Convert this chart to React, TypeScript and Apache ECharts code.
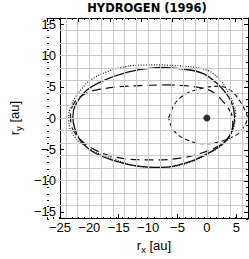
import React, { useEffect, useRef } from 'react';
import * as echarts from 'echarts';

const TITLE = 'HYDROGEN (1996)';
const X_NAME = '{a|r}{b|x}{a| [au]}';
const Y_NAME = '{a|r}{b|y}{a| [au]}';
const X_RANGE = [-25, 7];
const Y_RANGE = [-16, 16];
const X_MAJOR = [-25, -20, -15, -10, -5, 0, 5];
const Y_MAJOR = [-15, -10, -5, 0, 5, 10, 15];
const X_GRID = [-24, -22, -20, -18, -16, -14, -12, -10, -8, -6, -4, -2, 0, 2, 4, 6];
const Y_GRID = [-14, -12, -10, -8, -6, -4, -2, 0, 2, 4, 6, 8, 10, 12, 14];

const SOLID = [
  [-8.1, 8.1], [-3.8, 7.8], [-0.6, 7.1], [2.0, 5.3], [3.4, 3.8], [4.2, 2.5], [4.6, 1.2],
  [4.7, -0.2], [4.4, -1.6], [4.0, -2.6], [2.6, -4.2], [-0.1, -5.8], [-3.3, -7.1],
  [-7.5, -7.9], [-11.8, -7.7], [-15.5, -6.9], [-19.2, -5.5], [-21.5, -3.6], [-22.5, -1.6],
  [-22.8, 0.2], [-22.4, 2.0], [-20.4, 4.5], [-16.6, 6.4], [-12.3, 7.6], [-8.1, 8.1],
];

const DOTTED = [
  [-8.1, 8.5], [-2.8, 8.2], [0.4, 7.5], [2.6, 5.7], [3.7, 4.0], [4.5, 2.3], [4.9, 0.8],
  [4.8, -0.6], [4.5, -1.8], [4.0, -2.8], [2.6, -4.3], [-0.1, -5.9], [-3.3, -7.2],
  [-7.5, -7.9], [-11.8, -7.7], [-16.6, -6.3], [-19.8, -5.0], [-22.3, -3.2], [-23.4, -1.3],
  [-23.5, 0.3], [-22.6, 3.0], [-21.0, 5.0], [-19.8, 6.1], [-16.1, 7.7], [-11.8, 8.45], [-8.1, 8.5],
];

const LONG_DASH = [
  [-7.0, 5.3], [-2.8, 5.1], [0.3, 4.5], [2.0, 3.4], [3.3, 2.0], [4.2, 0.6], [4.4, -1.0],
  [4.0, -2.6], [3.0, -3.9], [1.5, -4.7], [-0.3, -5.4], [-3.8, -6.3], [-8.6, -6.7],
  [-12.9, -6.6], [-16.6, -6.0], [-19.8, -4.7], [-22.0, -3.0], [-23.1, -1.0], [-23.2, 0.6],
  [-22.5, 2.5], [-20.7, 3.9], [-18.7, 4.5], [-15.0, 5.0], [-11.3, 5.2], [-7.0, 5.3],
];

const SHORT_DASH = [
  [-6.5, 0.0], [-5.9, 1.5], [-5.0, 2.8], [-3.3, 4.0], [-0.6, 4.8], [2.0, 5.1], [4.1, 4.4],
  [5.7, 2.6], [6.5, 1.2], [6.9, 0.1], [6.6, -0.9], [5.5, -2.4], [3.4, -3.4], [1.2, -4.0],
  [-0.9, -4.1], [-3.1, -3.6], [-4.9, -2.7], [-6.0, -1.4], [-6.5, 0.0],
];

const CENTER = [[0, 0]];

const fmt = (v: number) => {
  if (Math.abs(v % 5) > 1e-9) return '';
  return v < 0 ? '\u2212' + Math.abs(v) : String(v);
};

const GRID_RECT = { left: 47, top: 18, width: 201, height: 201 };
const BLACK = '#000';
const LABEL_FONT = 'Liberation Sans';

const nameRich = {
  a: { fontSize: 13, fontFamily: LABEL_FONT, color: BLACK },
  b: { fontSize: 9.5, fontFamily: LABEL_FONT, color: BLACK, padding: [7, 0, 0, 0] },
};

function majorX(gridIndex: number, position: string, labels: boolean): any {
  return {
    type: 'value', gridIndex, position, min: X_RANGE[0], max: X_RANGE[1], interval: 5,
    axisLine: { show: true, onZero: false, lineStyle: { color: BLACK, width: 1 } },
    axisTick: { show: true, inside: true, length: 4, lineStyle: { color: BLACK }, customValues: X_MAJOR },
    axisLabel: labels
      ? { show: true, customValues: X_MAJOR, formatter: fmt, margin: 3, fontSize: 13, fontFamily: LABEL_FONT, color: BLACK }
      : { show: false },
    splitLine: { show: false },
    ...(labels ? { name: X_NAME, nameLocation: 'middle', nameGap: 17, nameTextStyle: { rich: nameRich } } : {}),
  };
}

function minorX(gridIndex: number, position: string): any {
  return {
    type: 'value', gridIndex, position, min: X_RANGE[0], max: X_RANGE[1], interval: 1,
    axisLine: { show: false, onZero: false },
    axisTick: { show: true, inside: true, length: 2, lineStyle: { color: BLACK } },
    axisLabel: { show: false },
    splitLine: { show: false },
  };
}

function majorY(gridIndex: number, position: string, labels: boolean): any {
  return {
    type: 'value', gridIndex, position, min: Y_RANGE[0], max: Y_RANGE[1], splitNumber: 6,
    axisLine: { show: true, onZero: false, lineStyle: { color: BLACK, width: 1 } },
    axisTick: { show: true, inside: true, length: 4, lineStyle: { color: BLACK }, customValues: Y_MAJOR },
    axisLabel: labels
      ? { show: true, customValues: Y_MAJOR, formatter: fmt, margin: 4, fontSize: 13, fontFamily: LABEL_FONT, color: BLACK }
      : { show: false },
    splitLine: { show: false },
    ...(labels ? { name: Y_NAME, nameLocation: 'middle', nameGap: 31, nameRotate: 90, nameTextStyle: { rich: nameRich } } : {}),
  };
}

function minorY(gridIndex: number, position: string): any {
  return {
    type: 'value', gridIndex, position, min: Y_RANGE[0], max: Y_RANGE[1], interval: 1,
    axisLine: { show: false, onZero: false },
    axisTick: { show: true, inside: true, length: 2, lineStyle: { color: BLACK } },
    axisLabel: { show: false },
    splitLine: { show: false },
  };
}

function curve(data: number[][], type: any, width: number): any {
  return {
    type: 'line', xAxisIndex: 0, yAxisIndex: 0, data, showSymbol: false, symbol: 'none',
    smooth: 0.35, z: 3, silent: true,
    lineStyle: { color: '#111', width, type },
  };
}

export default function App() {
  const ref = useRef<HTMLDivElement>(null);
  useEffect(() => {
    if (!ref.current) return;
    const chart = echarts.init(ref.current, undefined, { renderer: 'svg' });
    chart.setOption({
      animation: false,
      backgroundColor: '#fff',
      grid: [0, 1, 2, 3].map(() => ({ ...GRID_RECT })),
      xAxis: [majorX(0, 'bottom', true), majorX(1, 'top', false), minorX(2, 'bottom'), minorX(3, 'top')],
      yAxis: [majorY(0, 'left', true), majorY(1, 'right', false), minorY(2, 'left'), minorY(3, 'right')],
      graphic: [
        {
          type: 'text', x: 147, y: 8, z: 10,
          style: {
            text: TITLE, fill: BLACK, fontSize: 11.5, fontWeight: 'bold', fontFamily: 'DejaVu Sans',
            align: 'center', verticalAlign: 'middle', textAlign: 'center', textVerticalAlign: 'middle',
          },
        },
      ],
      series: [
        {
          type: 'line', xAxisIndex: 0, yAxisIndex: 0, data: [], z: 1, silent: true,
          markLine: {
            silent: true, symbol: ['none', 'none'], label: { show: false },
            lineStyle: { color: '#cccccc', width: 1, type: 'solid' },
            emphasis: { disabled: true },
            data: [...X_GRID.map((v) => ({ xAxis: v })), ...Y_GRID.map((v) => ({ yAxis: v }))],
          },
        },
        curve(DOTTED, [1, 1.6], 1.2),
        curve(SOLID, 'solid', 1.3),
        curve(LONG_DASH, [9, 5], 1.2),
        curve(SHORT_DASH, [4.5, 3], 1.1),
        {
          type: 'scatter', xAxisIndex: 0, yAxisIndex: 0, data: CENTER, symbolSize: 7, z: 5, silent: true,
          itemStyle: { color: BLACK },
        },
      ],
    });
    return () => chart.dispose();
  }, []);
  return <div ref={ref} style={{ position: 'fixed', left: 0, top: 0, width: 249, height: 259 }} />;
}
